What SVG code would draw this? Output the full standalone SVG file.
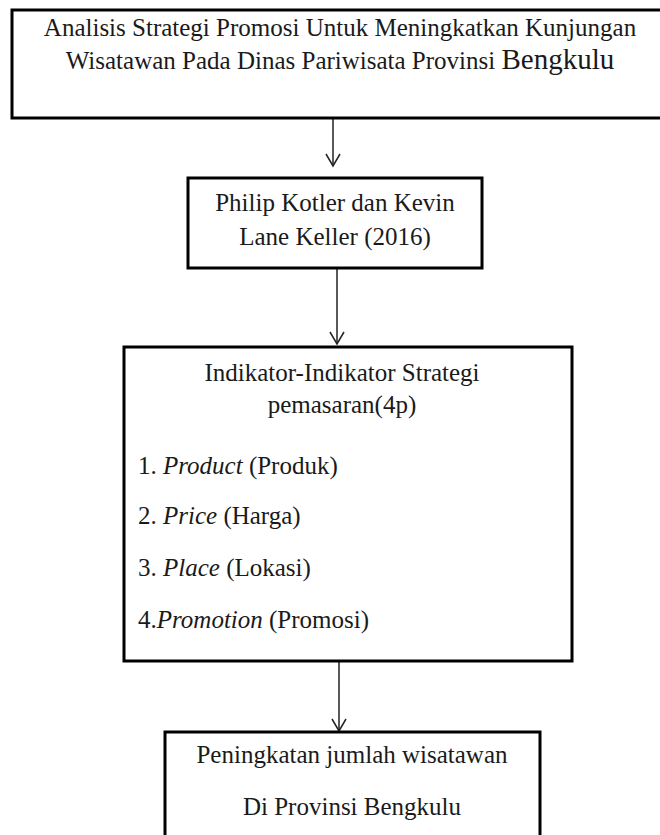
<svg xmlns="http://www.w3.org/2000/svg" width="660" height="835" viewBox="0 0 660 835">
<defs>
<style>
.box{fill:#fff;stroke:#000;stroke-width:3}
.t{font-family:'Liberation Serif','DejaVu Serif',serif;font-size:25px;fill:#1a1a1a}
.c{text-anchor:middle}
.con{stroke:#222;stroke-width:1.5;fill:none}
</style>
<marker id="ah" markerWidth="16" markerHeight="16" viewBox="0 0 16 16" refX="14" refY="8" orient="auto" markerUnits="userSpaceOnUse">
<path d="M2,1 L14,8 L2,15" fill="none" stroke="#222" stroke-width="1.5"/>
</marker>
</defs>
<rect width="660" height="835" fill="#fff"/>
<g id="connectors">
<path class="con" d="M333,119 V166" marker-end="url(#ah)"/>
<path class="con" d="M337,269 V344" marker-end="url(#ah)"/>
<path class="con" d="M339,662 V731" marker-end="url(#ah)"/>
</g>
<g id="node1">
<rect class="box" x="12" y="10" width="660" height="108"/>
<text class="t c" x="340" y="36">Analisis Strategi  Promosi Untuk Meningkatkan Kunjungan</text>
<text class="t c" x="340" y="69">Wisatawan Pada Dinas Pariwisata Provinsi <tspan font-size="29">Bengkulu</tspan></text>
</g>
<g id="node2">
<rect class="box" x="188" y="178" width="294" height="90"/>
<text class="t c" x="335" y="211">Philip Kotler dan Kevin</text>
<text class="t c" x="335" y="245">Lane Keller (2016)</text>
</g>
<g id="node3">
<rect class="box" x="124" y="347" width="448" height="314"/>
<text class="t c" x="342" y="381">Indikator-Indikator Strategi</text>
<text class="t c" x="342" y="413">pemasaran(4p)</text>
<text class="t" x="138" y="474">1. <tspan font-style="italic">Product</tspan> (Produk)</text>
<text class="t" x="138" y="524">2. <tspan font-style="italic">Price</tspan> (Harga)</text>
<text class="t" x="138" y="576">3. <tspan font-style="italic">Place</tspan> (Lokasi)</text>
<text class="t" x="138" y="628">4.<tspan font-style="italic">Promotion</tspan> (Promosi)</text>
</g>
<g id="node4">
<rect class="box" x="165" y="732" width="375" height="120"/>
<text class="t c" x="352" y="763">Peningkatan jumlah wisatawan</text>
<text class="t c" x="352" y="815">Di Provinsi Bengkulu</text>
</g>
</svg>
